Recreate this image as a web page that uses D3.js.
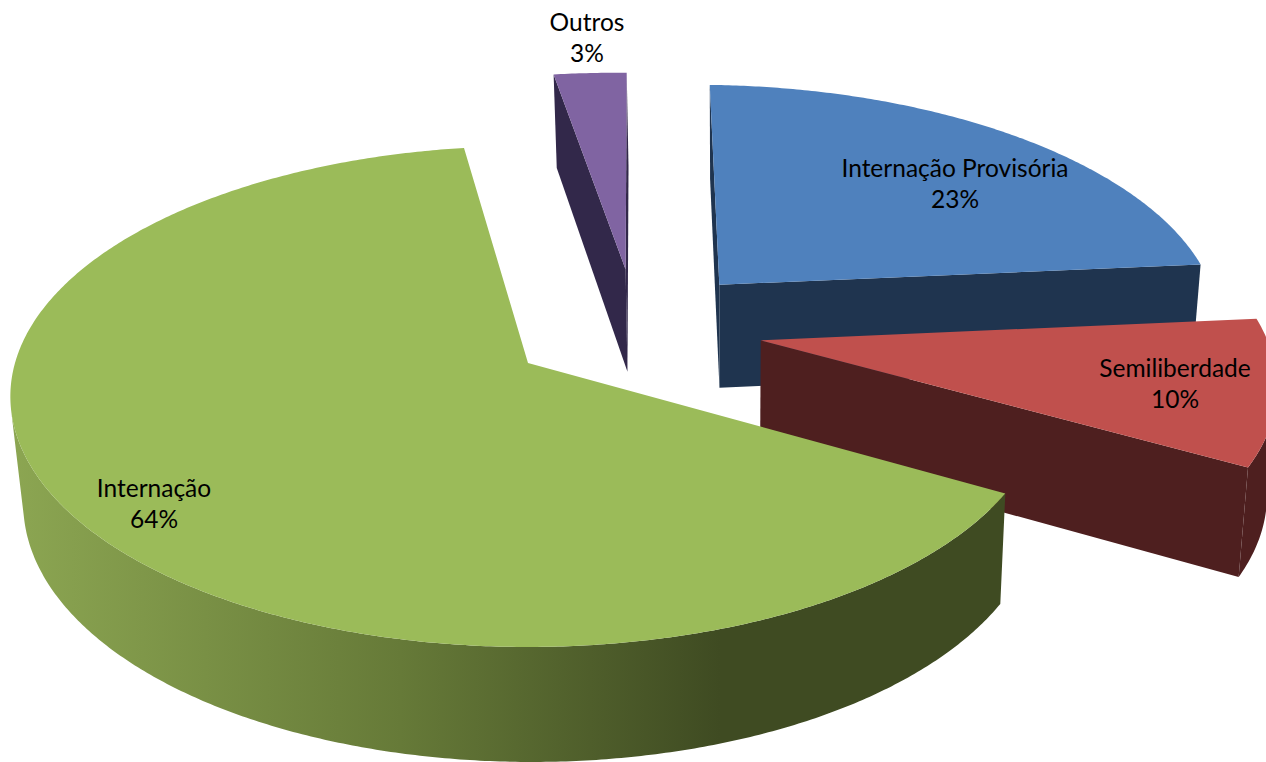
<!DOCTYPE html>
<html lang="en">
  <head>
    <meta charset="UTF-8">
    <script src="https://d3js.org/d3.v7.min.js"></script>
    <style>
      html,body{
        width:100%;
        height:100%;
        margin: 0px;
        background: #fff;
        overflow: hidden;
      }
      text{
        font-family: Lato, "Open Sans", sans-serif;
        font-size: 24.5px;
        fill: #000;
        text-anchor: middle;
      }
    </style>
  </head>
  <body>
    <svg id="chart" width="1266" height="762"></svg>
  </body>
</html>
<script>
// chart data, clockwise from the top
var categories = ["Internação Provisória", "Semiliberdade", "Internação", "Outros"];
var percents = [23.1, 9.7, 64.5, 2.7];
var percentLabels = ["23%", "10%", "64%", "3%"];

var topColors = ["#4f81bd", "#c0504d", "#9bbb59", "#8064a2"];
var wallColors = ["#1f344f", "#4e1f1f", "url(#greenWall)", "#32284a"];
var explodes = [0.255, 0.25, 0.26, 0.255];   // how far each slice is pulled out, in radii
var labelAt = [[955, 168], [1175, 368], [154, 488], [587, 22]];
var drawOrder = [0, 3, 1, 2];   // back to front

var width = 1266, height = 762;
var firstAngle = 1.6 * Math.PI / 180;
var lineGap = 31;

// plane coords -> screen, a flat perspective fitted on the green slice
var originX = 528, originY = 363,
    radiusX = 513, radiusY = 246,
    tilt = 0.1337;

var svg = d3.select("#chart");
var line = d3.line();

var grad = svg.append("defs").append("linearGradient")
    .attr("id", "greenWall")
    .attr("gradientUnits", "userSpaceOnUse")
    .attr("x1", 10).attr("x2", 720).attr("y1", 0).attr("y2", 0);
grad.append("stop").attr("offset", 0).attr("stop-color", "#8ca652");
grad.append("stop").attr("offset", 0.55).attr("stop-color", "#667a38");
grad.append("stop").attr("offset", 1).attr("stop-color", "#3f4b22");

var slices = d3.pie().sort(null)
    .startAngle(firstAngle)
    .endAngle(firstAngle + 2 * Math.PI)(percents);

function middle(d){ return (d.startAngle + d.endAngle) / 2; }
function dir(a){ return [Math.sin(a), -Math.cos(a)]; }

// green is the slice sitting at the origin, the others move relative to it
var base = dir(middle(slices[2]));

function project(p, low){
  var u = p[0] - explodes[2] * base[0],
      v = p[1] - explodes[2] * base[1],
      f = 1 / (1 - tilt * v),
      x = originX + radiusX * u * f,
      y = originY + radiusY * v * f;
  if (low) {
    var x2 = x + 3.6 - 0.018 * (x - originX);
    return [x2, y + 106 + 9 * v];
  }
  return [x, y];
}

function wall(p, q){
  return [project(p), project(q), project(q, true), project(p, true)];
}

// d3.polygonArea is positive for the walls facing the viewer here
function visible(poly){ return d3.polygonArea(poly) > 0; }

drawOrder.forEach(function(i){
  var d = slices[i],
      m = dir(middle(d)),
      apex = [explodes[i] * m[0], explodes[i] * m[1]],
      rim = [],
      n = Math.ceil((d.endAngle - d.startAngle) / (0.5 * Math.PI / 180));

  for (var k = 0; k <= n; k++) {
    var a = d.startAngle + (d.endAngle - d.startAngle) * k / n,
        e = dir(a);
    rim.push([apex[0] + e[0], apex[1] + e[1]]);
  }

  var g = svg.append("g");

  // the two straight walls
  [[apex, rim[0]], [rim[n], apex]].forEach(function(edge){
    var poly = wall(edge[0], edge[1]);
    if (visible(poly)) g.append("path").attr("d", line(poly) + "Z").attr("fill", wallColors[i]);
  });

  // the rounded wall, only the runs that look at the viewer
  var run = [];
  function flush(){
    if (run.length > 1) {
      var top = run.map(function(p){ return project(p); }),
          low = run.map(function(p){ return project(p, true); }).reverse();
      g.append("path").attr("d", line(top.concat(low)) + "Z").attr("fill", wallColors[i]);
    }
    run = [];
  }
  for (var s = 0; s < n; s++) {
    if (visible(wall(rim[s], rim[s + 1]))) {
      if (!run.length) run.push(rim[s]);
      run.push(rim[s + 1]);
    } else flush();
  }
  flush();

  // top face
  g.append("path")
    .attr("d", line([apex].concat(rim).map(function(p){ return project(p); })) + "Z")
    .attr("fill", topColors[i]);
});

categories.forEach(function(name, i){
  var t = svg.append("text").attr("x", labelAt[i][0]).attr("y", labelAt[i][1]);
  t.append("tspan").attr("x", labelAt[i][0]).attr("dy", "0.35em").text(name);
  t.append("tspan").attr("x", labelAt[i][0]).attr("dy", lineGap).text(percentLabels[i]);
});
</script>
